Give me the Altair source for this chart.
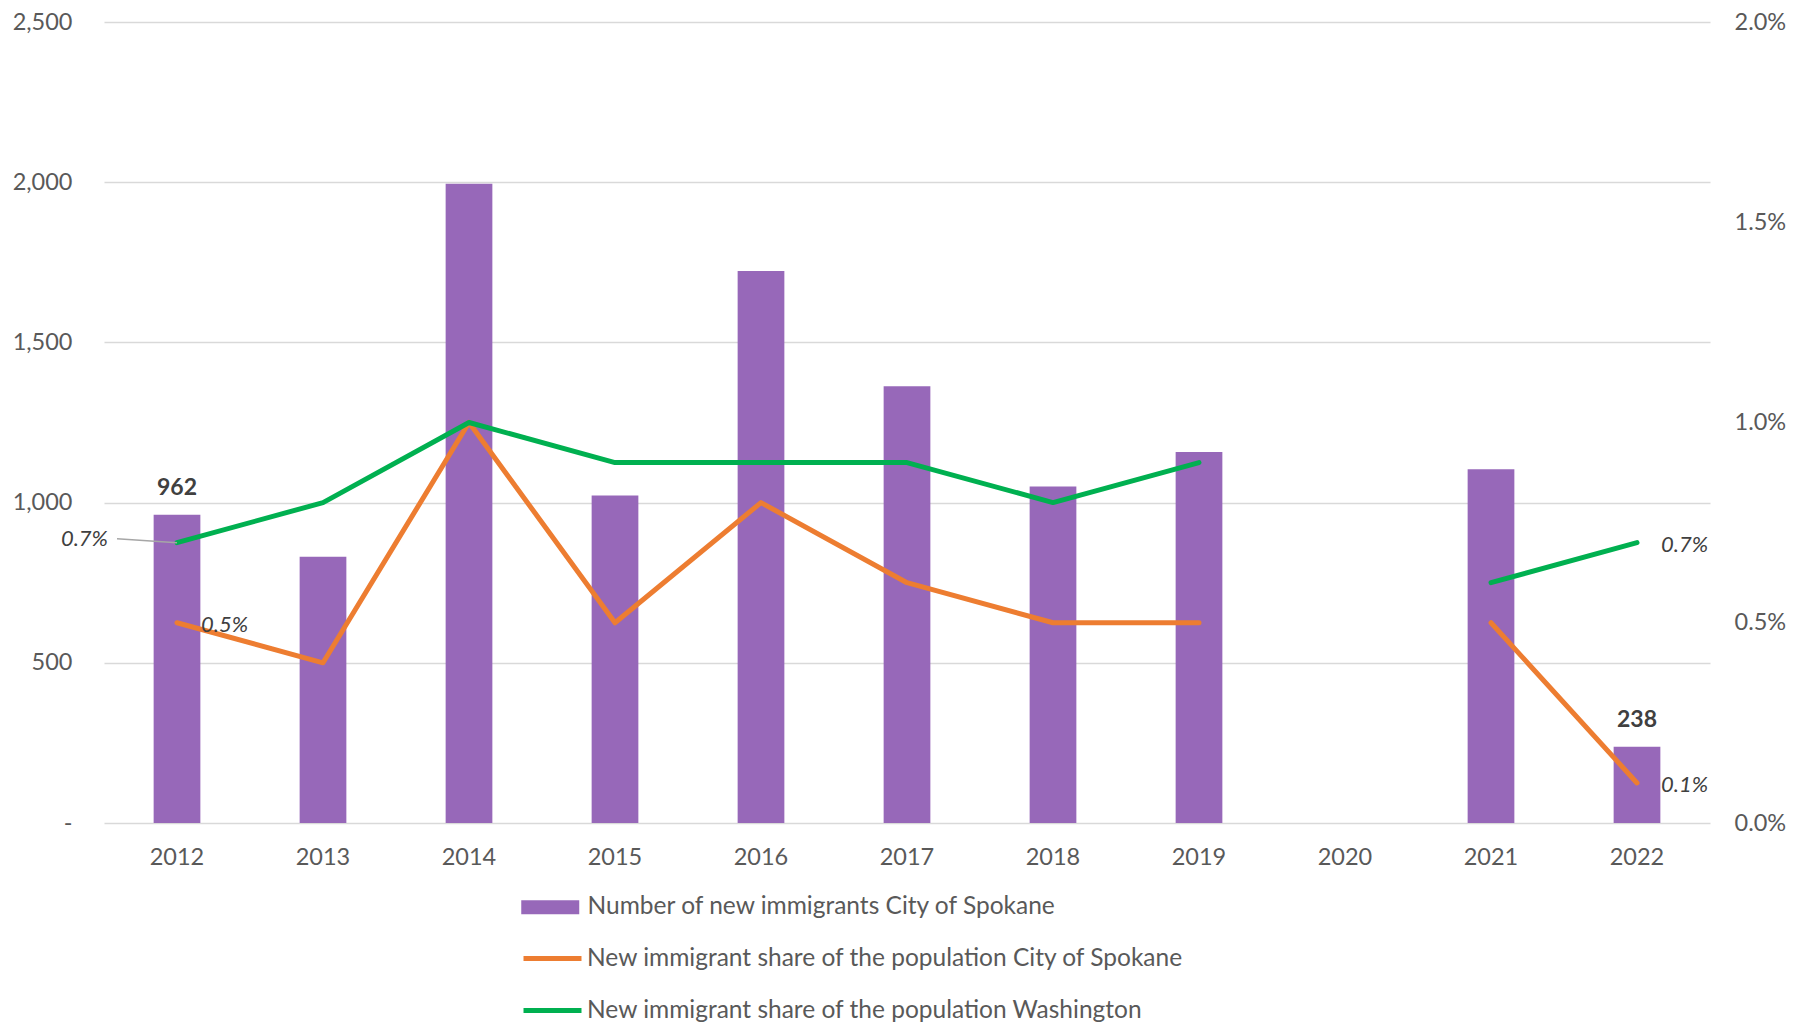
import altair as alt
import pandas as pd

years = ['2012', '2013', '2014', '2015', '2016', '2017', '2018', '2019', '2020', '2021', '2022']
immigrants = [962, 831, 1995, 1022, 1723, 1363, 1050, 1158, None, 1104, 238]
spokane_share = [0.005, 0.004, 0.010, 0.005, 0.008, 0.006, 0.005, 0.005, None, 0.005, 0.001]
wa_share = [0.007, 0.008, 0.010, 0.009, 0.009, 0.009, 0.008, 0.009, None, 0.006, 0.007]
bar_labels = ['962', '', '', '', '', '', '', '', '', '', '238']
spokane_labels = ['0.5%', '', '', '', '', '', '', '', '', '', '0.1%']
wa_labels = ['0.7%', '', '', '', '', '', '', '', '', '', '0.7%']

names = ['Number of new immigrants City of Spokane',
         'New immigrant share of the population City of Spokane',
         'New immigrant share of the population Washington']
colors = ['#9565B8', '#ED7D31', '#00B050']

FONT = 'Lato'
GRAY = '#595959'
AX_FS = 23.5
LEG_FS = 24.5

bars_df = pd.DataFrame({'year': years, 'count': immigrants, 'label': bar_labels, 'series': names[0]})
bars_df = bars_df.dropna(subset=['count'])

rows = []
for series, vals, labs in [(names[1], spokane_share, spokane_labels), (names[2], wa_share, wa_labels)]:
    seg = 0
    for y, v, l in zip(years, vals, labs):
        if v is None:
            seg += 1
            continue
        rows.append({'year': y, 'value': v, 'series': series, 'seg': f'{series}-{seg}', 'label': l})
lines_df = pd.DataFrame(rows)

x_enc = alt.X('year:O', sort=years, scale=alt.Scale(domain=years, paddingInner=0.68, paddingOuter=0.34),
              axis=alt.Axis(title=None, labelAngle=0, ticks=False, domain=False, labelFontSize=AX_FS,
                            labelColor=GRAY, labelFont=FONT, labelPadding=22, grid=False))

leg_common = dict(title=None, orient='none', legendX=434, padding=0, symbolSize=538,
                  labelFontSize=LEG_FS, labelFont=FONT, labelColor=GRAY, labelLimit=900)

fill_enc = alt.Fill('series:N', scale=alt.Scale(domain=names[:1], range=colors[:1]),
                    legend=alt.Legend(legendY=873, symbolType='M-2.5,-0.6H2.5V0.6H-2.5Z',
                                      symbolStrokeWidth=0, labelOffset=25, **leg_common))

stroke_enc = alt.Stroke('series:N', scale=alt.Scale(domain=names[1:], range=colors[1:]),
                        legend=alt.Legend(legendY=922, direction='vertical', symbolType='M-2.5,0H2.5',
                                          symbolStrokeWidth=5, rowPadding=26, labelOffset=20, **leg_common))

y_left = alt.Y('count:Q', scale=alt.Scale(domain=[0, 2500], nice=False),
               axis=alt.Axis(title=None, orient='left', values=[0, 500, 1000, 1500, 2000, 2500],
                             labelExpr="datum.value == 0 ? '-' : format(datum.value, ',')",
                             ticks=False, domain=False, labelFontSize=AX_FS, labelColor=GRAY, labelFont=FONT,
                             labelPadding=32, gridColor='#D9D9D9', gridWidth=1.5))

bars = alt.Chart(bars_df).mark_bar(opacity=0.98).encode(x=x_enc, y=y_left, fill=fill_enc)
bar_text = alt.Chart(bars_df).transform_filter("datum.label != ''").mark_text(
    font=FONT, fontSize=23, fontWeight='bold', color='#404040', baseline='alphabetic', dy=-20
).encode(x=alt.X('year:O', sort=years), y='count:Q', text='label:N')

left = alt.layer(bars, bar_text)

y_right = alt.Y('value:Q', scale=alt.Scale(domain=[0, 0.02], nice=False),
                axis=alt.Axis(title=None, orient='right', values=[0, 0.005, 0.01, 0.015, 0.02], format='.1%',
                              ticks=False, domain=False, grid=False, labelFontSize=AX_FS, labelColor=GRAY,
                              labelFont=FONT, labelPadding=24))

lines = alt.Chart(lines_df).mark_line(strokeWidth=5, strokeCap='round', strokeJoin='round').encode(
    x=alt.X('year:O', sort=years), y=y_right, stroke=stroke_enc, detail='seg:N')

lab_base = alt.Chart(lines_df).transform_filter("datum.label != ''")
text_style = dict(font=FONT, fontSize=22, fontStyle='italic', color='#404040', baseline='middle')

lab_right = lab_base.transform_filter(
    f"!(datum.year == '2012' && datum.series == '{names[2]}')"
).mark_text(align='left', dx=24, dy=2, **text_style).encode(
    x=alt.X('year:O', sort=years), y='value:Q', text='label:N')

lab_left = lab_base.transform_filter(
    f"datum.year == '2012' && datum.series == '{names[2]}'"
).mark_text(align='right', dx=-69, dy=-4, **text_style).encode(
    x=alt.X('year:O', sort=years), y='value:Q', text='label:N')

leader = lab_base.transform_filter(
    f"datum.year == '2012' && datum.series == '{names[2]}'"
).mark_rule(color='#A6A6A6', strokeWidth=1.5, xOffset=-60, yOffset=-4, x2Offset=0, y2Offset=0).encode(
    x=alt.X('year:O', sort=years), x2='year', y='value:Q', y2='value')

right = alt.layer(lines, leader, lab_right, lab_left)

chart = alt.layer(left, right).resolve_scale(y='independent').properties(
    width=1606, height=801,
    padding={'left': 4, 'top': 2, 'right': 5, 'bottom': 5}
).configure(font=FONT).configure_view(stroke=None)

chart.save('out.html', embed_options={'renderer': 'svg', 'actions': False})
